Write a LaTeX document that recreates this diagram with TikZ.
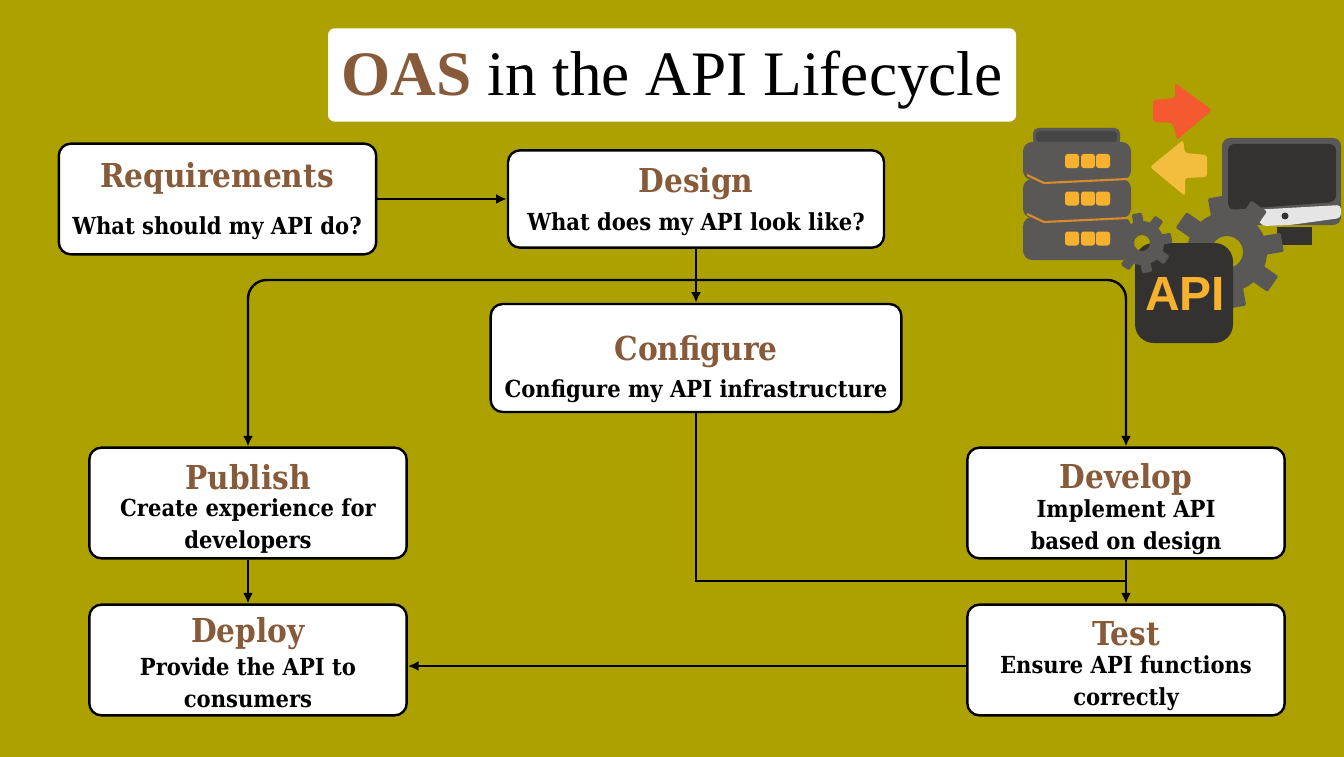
\documentclass[tikz,border=0pt]{standalone}
\usepackage{fontspec}
\setmainfont{DejaVu Serif Condensed}
\newfontfamily\titlefont{Liberation Serif}
\newfontfamily\apifont{Liberation Sans}
\usetikzlibrary{positioning,calc,arrows.meta}
\definecolor{olivebg}{HTML}{ADA100}
\definecolor{headbrown}{HTML}{875A39}
\definecolor{slabgray}{HTML}{5A5856}
\definecolor{tiledark}{HTML}{333231}
\definecolor{ledorange}{HTML}{F7B12F}
\definecolor{arrowred}{HTML}{F4592F}
\definecolor{arrowyellow}{HTML}{F3BE3D}
\definecolor{stripeorange}{HTML}{D98A2B}
\newcommand{\gear}[5]{% centre, teeth radius, ring radius, angle step, hole radius
\foreach \A in {0,#4,...,359}
{\fill[slabgray,rounded corners=1pt,rotate around={\A+10:(#1)}] ($(#1)+(-#2*0.17,#3*0.8)$) rectangle ($(#1)+(#2*0.17,#2)$);}
\fill[slabgray,even odd rule] (#1) circle (#3) circle (#5);}
\begin{document}
\begin{tikzpicture}[x=0.75pt,y=-0.75pt,
item/.style={draw=black,line width=1.8pt,fill=white,rounded corners=9pt,inner sep=0pt},
wire/.style={line width=1.8pt,black},
flow/.style={wire,-{Latex[length=8pt,width=7.5pt]}},
head/.style={text=headbrown,font=\bfseries\fontsize{24.7}{27}\selectfont},
body/.style={align=center,font=\bfseries\fontsize{17.6}{24}\selectfont}]
\useasboundingbox (0,0) rectangle (1344,756);
\fill[olivebg] (-3,-3) rectangle (1347,759);

\node[fill=white,rounded corners=5pt,minimum width=516pt,minimum height=70pt] (title) at (672,75) {};
\node[font=\titlefont\fontsize{47.5}{47.5}\selectfont] (titlet) at (672,80)
{\textcolor{headbrown}{\textbf{OAS}} in the API Lifecycle};

\node[item,minimum width=238pt,minimum height=83pt] (req) at (217.5,199) {};
\node[item,minimum width=282pt,minimum height=73pt] (design) at (696,199) {};
\node[item,minimum width=308pt,minimum height=81pt] (config) at (696,358) {};
\foreach \N/\X/\Y in {publish/248/503,develop/1126/503,deploy/248/660,test/1126/660}
{\node[item,minimum width=238pt,minimum height=83pt] (\N) at (\X,\Y) {};}

\node[head] (reqh) at (217,178) {Requirements};
\node[head] (desh) at (696,184) {Design};
\node[head] (conh) at (696,352) {Configure};
\node[head] (pubh) at (248,477) {Publish};
\node[head] (devh) at (1126,479) {Develop};
\node[head] (deph) at (248,634) {Deploy};
\node[head] (tesh) at (1126,634) {Test};

\node[body] (reqt) at (217,228) {What should my API do?};
\node[body] (dest) at (696,224) {What does my API look like?};
\node[body] (cont) at (696,391) {Configure my API infrastructure};
\node[body] (pubt) at (248,526) {Create experience for\\developers};
\node[body] (devt) at (1126,527) {Implement API\\based on design};
\node[body] (dept) at (248,683) {Provide the API to\\consumers};
\node[body] (tess) at (1126,683) {Ensure API functions\\correctly};

\coordinate (bus) at (696,280);
\coordinate (joint) at (1126,581);
\draw[flow] (req) -- (design);
\draw[flow] (design) -- (config);
\draw[flow,rounded corners=14pt] (bus) -| (publish);
\draw[flow,rounded corners=14pt] (bus) -| (develop);
\draw[wire] (config) |- (joint);
\draw[flow] (develop) -- (test);
\draw[flow] (publish) -- (deploy);
\draw[flow] ([yshift=-4.5pt]test.west) -- ([yshift=-4.5pt]deploy.east);

% icon
\fill[slabgray,rounded corners=4pt] (1033,128) rectangle (1120,146);
\fill[tiledark!90,rounded corners=3pt] (1036,131) rectangle (1117,143);
\foreach \Y/\H in {142/38,179/39,217/43}
{\fill[slabgray,rounded corners=7pt] (1023,\Y) rectangle (1131,\Y+\H);
\foreach \X in {1065,1081,1096}
{\fill[ledorange,rounded corners=2pt] (\X,\Y+\H/2-7) rectangle (\X+14,\Y+\H/2+7);}}
\foreach \Y in {175,214}
{\draw[stripeorange,line width=1.6pt] (1027,\Y) -- (1044,\Y+8) -- (1128,\Y+4);}

\fill[arrowred,rounded corners=2pt] (1175,83) -- (1212,110) -- (1177,140) -- (1173,123) -- (1153,122) -- (1153,100) -- (1175,98) -- cycle;
\fill[arrowyellow,rounded corners=2pt] (1150,167) -- (1183,140) -- (1185,153) -- (1207,155) -- (1207,177) -- (1185,178) -- (1185,196) -- cycle;

\fill[slabgray,rounded corners=6pt] (1222,138) rectangle (1341,225);
\fill[tiledark,rounded corners=5pt] (1228,144) -- (1336,144) -- (1336,202) -- (1228,210) -- cycle;
\fill[gray!20,rounded corners=3pt] (1252,210) -- (1341,205) -- (1341,218) -- (1290,225) -- (1262,226) -- cycle;
\fill[tiledark] (1285,216) circle (3.5);
\fill[tiledark] (1277,227) rectangle (1312,245);

\gear{1227,252}{56}{40}{45}{16}
\fill[tiledark,rounded corners=14pt] (1135,243) rectangle (1233,343);
\gear{1142,243}{30}{22}{45}{8}
\node[text=ledorange,font=\apifont\bfseries\fontsize{36}{36}\selectfont] (apit) at (1185,294) {API};
\end{tikzpicture}
\end{document}
